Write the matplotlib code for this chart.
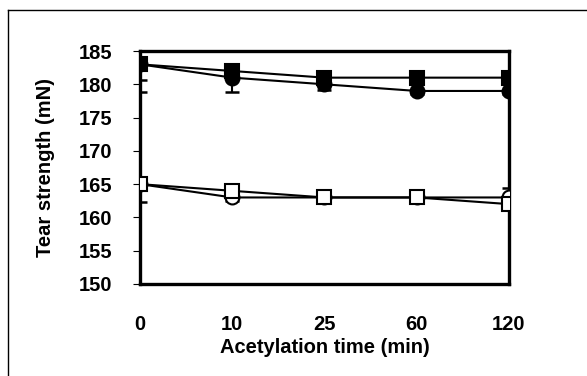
import numpy as np
import matplotlib.pyplot as plt
from matplotlib.lines import Line2D

plt.rcParams['font.family'] = ['Liberation Sans', 'DejaVu Sans']
plt.rcParams['font.weight'] = 'bold'

############### data ###############
time_labels = ['0', '10', '25', '60', '120']
sq_fill = [183, 182, 181, 181, 181]
circ_fill = [183, 181, 180, 179, 179]
sq_open = [165, 164, 163, 163, 162]
circ_open = [165, 163, 163, 163, 163]

### barres d'erreur (basse, haute)
sq_fill_err = [[2.4, 0, 0, 0, 0], [0, 0, 0, 0, 0]]
circ_fill_err = [[4.2, 2.2, 0.8, 0.5, 0.5], [0, 0, 0, 0, 0]]
sq_open_err = [[0, 0, 0, 0, 0], [0, 0, 0, 0, 2.4]]
circ_open_err = [[2.7, 0.5, 0.5, 0.5, 0.5], [0, 0, 0, 0, 0]]

x = np.arange(len(time_labels))

fig = plt.figure(figsize=(5.87, 3.76), dpi=100)
ax = fig.add_axes([0.2385, 0.2447, 0.6285, 0.6196])

series = [
    (sq_fill, sq_fill_err, 's', 'black'),
    (circ_fill, circ_fill_err, 'o', 'black'),
    (circ_open, circ_open_err, 'o', 'white'),
    (sq_open, sq_open_err, 's', 'white'),
]
for y, err, mk, fc in series:
    ax.errorbar(x, y, yerr=err, fmt='none', ecolor='black', elinewidth=1.5,
                capsize=5, capthick=1.8, zorder=2)
    ax.plot(x, y, color='black', lw=1.5, zorder=3)
    ax.plot(x, y, ls='none', marker=mk, ms=10, mfc=fc, mec='black', mew=1.5, zorder=4)

ax.set_xlim(0, 4)
ax.set_ylim(150, 185)
ax.set_yticks(np.arange(150, 186, 5))
ax.set_xticks(x)
ax.set_xticklabels(time_labels)
ax.tick_params(axis='x', length=0, pad=22, labelsize=14.5)
ax.tick_params(axis='y', length=5, width=0.8, pad=15, labelsize=14.5)
for s in ax.spines.values():
    s.set_linewidth(2.4)

ax.set_xlabel('Acetylation time (min)', fontsize=14.5, fontweight='bold', labelpad=3)
ax.set_ylabel('Tear strength (mN)', fontsize=14.5, fontweight='bold', labelpad=17)

### cadre extérieur (gauche et haut)
fig.add_artist(Line2D([0.014, 0.014], [0.0, 0.973], color='black', lw=1.0, transform=fig.transFigure))
fig.add_artist(Line2D([0.014, 1.0], [0.973, 0.973], color='black', lw=1.0, transform=fig.transFigure))

fig.savefig('out.png', dpi=100)
